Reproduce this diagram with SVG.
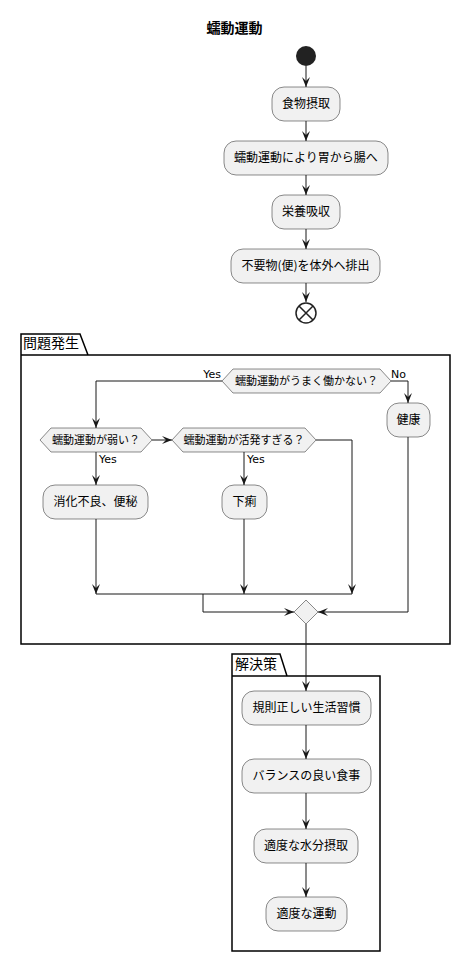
<svg xmlns="http://www.w3.org/2000/svg" width="471" height="962" viewBox="0 0 471 962">
<defs>
<style>
.act{fill:#F1F1F1;stroke:#181818;stroke-width:0.5}
.t12{font-family:"Noto Sans CJK JP","Noto Sans",sans-serif;font-size:12px;fill:#000;text-anchor:middle}
.t11{font-family:"Noto Sans CJK JP","Noto Sans",sans-serif;font-size:11px;fill:#000;text-anchor:middle}
.lbl{font-family:"DejaVu Sans",sans-serif;font-size:11px;fill:#000}
.pkg{fill:none;stroke:#000;stroke-width:1.5}
.pt{font-family:"Noto Sans CJK JP","Noto Sans",sans-serif;font-size:14px;fill:#000}
.ln{fill:none;stroke:#181818;stroke-width:1}
.arr{marker-end:url(#ah)}
</style>
<marker id="ah" markerUnits="userSpaceOnUse" markerWidth="12" markerHeight="10" refX="10" refY="4" orient="auto">
<path d="M0,0 L10,4 L0,8 L4,4 Z" fill="#181818"/>
</marker>
</defs>
<rect width="471" height="962" fill="#FFFFFF"/>
<text x="234.5" y="33" style="font-family:'Noto Sans CJK JP',sans-serif;font-size:14px;font-weight:bold;text-anchor:middle">蠕動運動</text>

<g id="packages">
<g id="pkg-problem">
<path class="pkg" d="M21,334 H80 L88,355 H450 V644 H21 Z M21,355 H88"/>
<text class="pt" x="23" y="348">問題発生</text>
</g>
<g id="pkg-solution">
<path class="pkg" d="M232,654 H280 L287,676 H380 V951 H232 Z M232,676 H287"/>
<text class="pt" x="235" y="669">解決策</text>
</g>
</g>

<g id="connectors">
<line class="ln arr" x1="306" y1="66" x2="306" y2="87"/>
<line class="ln arr" x1="306" y1="121" x2="306" y2="141"/>
<line class="ln arr" x1="306" y1="175" x2="306" y2="195"/>
<line class="ln arr" x1="306" y1="229" x2="306" y2="249"/>
<line class="ln arr" x1="306" y1="283" x2="306" y2="302"/>
<polyline class="ln arr" points="222,381 96,381 96,428"/>
<polyline class="ln arr" points="391,381 408,381 408,403"/>
<line class="ln arr" x1="152" y1="440" x2="172" y2="440"/>
<line class="ln arr" x1="96" y1="452" x2="96" y2="485"/>
<line class="ln arr" x1="244" y1="452" x2="244" y2="485"/>
<polyline class="ln arr" points="316,440 352,440 352,594"/>
<line class="ln arr" x1="96" y1="519" x2="96" y2="594"/>
<line class="ln arr" x1="244" y1="519" x2="244" y2="594"/>
<line class="ln" x1="96" y1="594" x2="352" y2="594"/>
<polyline class="ln arr" points="203,594 203,612 294,612"/>
<polyline class="ln arr" points="408,437 408,612 318,612"/>
<line class="ln arr" x1="306" y1="624" x2="306" y2="691"/>
<line class="ln arr" x1="306" y1="725" x2="306" y2="759"/>
<line class="ln arr" x1="306" y1="793" x2="306" y2="829"/>
<line class="ln arr" x1="306" y1="863" x2="306" y2="897"/>
<text class="lbl" x="221" y="378" text-anchor="end">Yes</text>
<text class="lbl" x="391" y="378">No</text>
<text class="lbl" x="99" y="463">Yes</text>
<text class="lbl" x="247" y="463">Yes</text>
</g>

<g id="start"><circle cx="306" cy="56" r="10" fill="#222222"/></g>
<g id="n1"><rect class="act" x="272" y="87" width="68" height="34" rx="12"/><text class="t12" x="306" y="108">食物摂取</text></g>
<g id="n2"><rect class="act" x="224" y="141" width="164" height="34" rx="12"/><text class="t12" x="306" y="162">蠕動運動により胃から腸へ</text></g>
<g id="n3"><rect class="act" x="272" y="195" width="68" height="34" rx="12"/><text class="t12" x="306" y="216">栄養吸収</text></g>
<g id="n4"><rect class="act" x="231" y="249" width="149" height="34" rx="12"/><text class="t12" x="305.5" y="270">不要物(便)を体外へ排出</text></g>
<g id="end"><circle cx="306" cy="313" r="10" fill="#FFFFFF" stroke="#222222" stroke-width="1.5"/><path d="M299,306 L313,320 M313,306 L299,320" stroke="#222222" stroke-width="1.5"/></g>

<g id="d1"><polygon class="act" points="222,381 233,369 380,369 391,381 380,393 233,393"/><text class="t11" x="306.5" y="385">蠕動運動がうまく働かない？</text></g>
<g id="d2"><polygon class="act" points="40,440 51,428 141,428 152,440 141,452 51,452"/><text class="t11" x="96" y="444">蠕動運動が弱い？</text></g>
<g id="d3"><polygon class="act" points="172,440 183,428 305,428 316,440 305,452 183,452"/><text class="t11" x="244" y="444">蠕動運動が活発すぎる？</text></g>
<g id="n5"><rect class="act" x="43" y="485" width="105" height="34" rx="12"/><text class="t12" x="95.5" y="506">消化不良、便秘</text></g>
<g id="n6"><rect class="act" x="222" y="485" width="45" height="34" rx="12"/><text class="t12" x="244.5" y="506">下痢</text></g>
<g id="n7"><rect class="act" x="387" y="403" width="43" height="34" rx="12"/><text class="t12" x="408.5" y="424">健康</text></g>
<g id="merge"><polygon class="act" points="306,600 318,612 306,624 294,612"/></g>

<g id="s1"><rect class="act" x="242" y="691" width="129" height="34" rx="12"/><text class="t12" x="306.5" y="712">規則正しい生活習慣</text></g>
<g id="s2"><rect class="act" x="242" y="759" width="129" height="34" rx="12"/><text class="t12" x="306.5" y="780">バランスの良い食事</text></g>
<g id="s3"><rect class="act" x="254" y="829" width="104" height="34" rx="12"/><text class="t12" x="306" y="850">適度な水分摂取</text></g>
<g id="s4"><rect class="act" x="266" y="897" width="81" height="34" rx="12"/><text class="t12" x="306.5" y="918">適度な運動</text></g>
</svg>
